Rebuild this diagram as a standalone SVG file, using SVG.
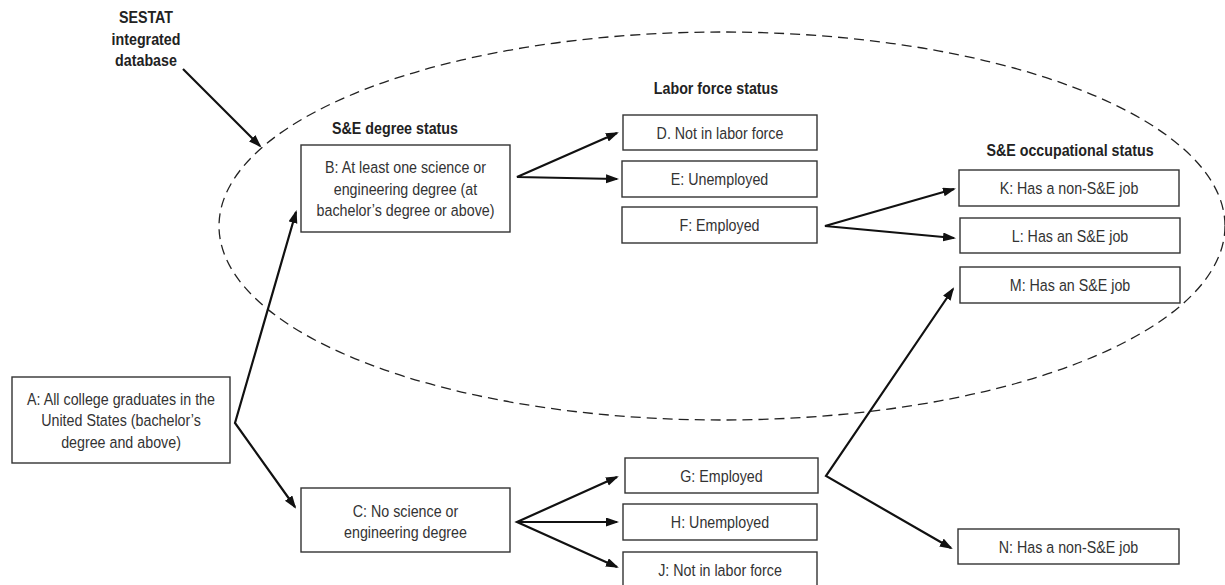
<svg xmlns="http://www.w3.org/2000/svg" width="1225" height="585" viewBox="0 0 1225 585">
<style>
.bg{fill:#ffffff}
.box{fill:#ffffff;stroke:#333333;stroke-width:1.4}
.t{font-family:"Liberation Sans",Arial,sans-serif;font-size:17.4px;fill:#333333;text-anchor:middle}
.h{font-family:"Liberation Sans",Arial,sans-serif;font-size:17.4px;font-weight:bold;fill:#222222;text-anchor:middle}
.c{fill:none;stroke:#111111;stroke-width:2.2;stroke-linejoin:miter}
.ell{fill:none;stroke:#222222;stroke-width:1.3;stroke-dasharray:10 6}
</style>
<defs>
<marker id="ah" markerUnits="userSpaceOnUse" markerWidth="14" markerHeight="10" refX="11" refY="4.5" orient="auto-start-reverse">
<path d="M0,0 L13,4.5 L0,9 z" fill="#111111"/>
</marker>
</defs>
<rect class="bg" x="0" y="0" width="1225" height="585"/>

<ellipse id="sestat-ellipse" class="ell" cx="722" cy="226" rx="503" ry="194"/>

<g id="headers">
<text class="h" transform="translate(146,23) scale(0.82,1)">SESTAT</text>
<text class="h" transform="translate(146,44.5) scale(0.82,1)">integrated</text>
<text class="h" transform="translate(146,66) scale(0.82,1)">database</text>
<text class="h" transform="translate(395,134) scale(0.82,1)">S&amp;E degree status</text>
<text class="h" transform="translate(716,94) scale(0.82,1)">Labor force status</text>
<text class="h" transform="translate(1070,156) scale(0.82,1)">S&amp;E occupational status</text>
</g>

<g id="connectors">
<path class="c" d="M183,69 L260,146" marker-end="url(#ah)"/>
<path class="c" d="M296,212 L235,423 L295,507" marker-start="url(#ah)" marker-end="url(#ah)"/>
<path class="c" d="M617,133 L517,177 L617,179" marker-start="url(#ah)" marker-end="url(#ah)"/>
<path class="c" d="M954,189 L825,226 L954,238" marker-start="url(#ah)" marker-end="url(#ah)"/>
<path class="c" d="M953,289 L826,476 L951,548" marker-start="url(#ah)" marker-end="url(#ah)"/>
<path class="c" d="M617,477 L517,522 L617,567" marker-start="url(#ah)" marker-end="url(#ah)"/>
<path class="c" d="M517,522 L617,522" marker-end="url(#ah)"/>
</g>

<g id="node-A">
<rect class="box" x="12" y="377" width="218" height="86"/>
<text class="t" transform="translate(121,404.5) scale(0.82,1)">A: All college graduates in the</text>
<text class="t" transform="translate(121,426) scale(0.82,1)">United States (bachelor’s</text>
<text class="t" transform="translate(121,447.5) scale(0.82,1)">degree and above)</text>
</g>
<g id="node-B">
<rect class="box" x="301" y="145" width="209" height="87"/>
<text class="t" transform="translate(405.5,173) scale(0.82,1)">B: At least one science or</text>
<text class="t" transform="translate(405.5,194.5) scale(0.82,1)">engineering degree (at</text>
<text class="t" transform="translate(405.5,216) scale(0.82,1)">bachelor’s degree or above)</text>
</g>
<g id="node-C">
<rect class="box" x="301" y="488" width="209" height="64"/>
<text class="t" transform="translate(405.5,516.5) scale(0.82,1)">C: No science or</text>
<text class="t" transform="translate(405.5,538) scale(0.82,1)">engineering degree</text>
</g>
<g id="node-D">
<rect class="box" x="623" y="115" width="194" height="35"/>
<text class="t" transform="translate(720,139) scale(0.82,1)">D. Not in labor force</text>
</g>
<g id="node-E">
<rect class="box" x="622" y="161" width="195" height="36"/>
<text class="t" transform="translate(719.5,185) scale(0.82,1)">E: Unemployed</text>
</g>
<g id="node-F">
<rect class="box" x="622" y="207" width="195" height="36"/>
<text class="t" transform="translate(719.5,231) scale(0.82,1)">F: Employed</text>
</g>
<g id="node-G">
<rect class="box" x="625" y="458" width="193" height="35"/>
<text class="t" transform="translate(721.5,482) scale(0.82,1)">G: Employed</text>
</g>
<g id="node-H">
<rect class="box" x="623" y="504" width="194" height="36"/>
<text class="t" transform="translate(720,528) scale(0.82,1)">H: Unemployed</text>
</g>
<g id="node-J">
<rect class="box" x="623" y="552" width="194" height="36"/>
<text class="t" transform="translate(720,576) scale(0.82,1)">J: Not in labor force</text>
</g>
<g id="node-K">
<rect class="box" x="959" y="170" width="220" height="36"/>
<text class="t" transform="translate(1069,194) scale(0.82,1)">K: Has a non-S&amp;E job</text>
</g>
<g id="node-L">
<rect class="box" x="960" y="218" width="220" height="35"/>
<text class="t" transform="translate(1070,242) scale(0.82,1)">L: Has an S&amp;E job</text>
</g>
<g id="node-M">
<rect class="box" x="960" y="267" width="220" height="36"/>
<text class="t" transform="translate(1070,291) scale(0.82,1)">M: Has an S&amp;E job</text>
</g>
<g id="node-N">
<rect class="box" x="958" y="529" width="221" height="35"/>
<text class="t" transform="translate(1068.5,553) scale(0.82,1)">N: Has a non-S&amp;E job</text>
</g>
</svg>
